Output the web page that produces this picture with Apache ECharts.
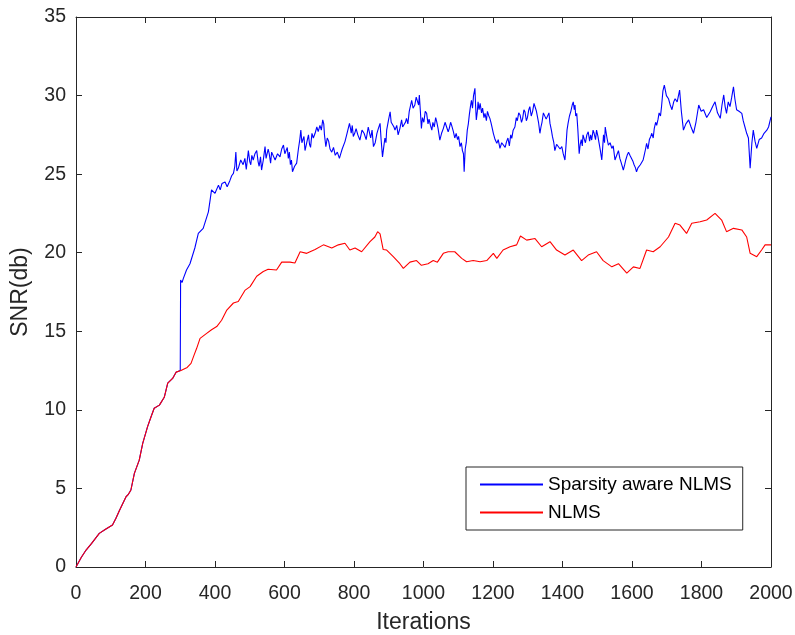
<!DOCTYPE html>
<html>
<head>
<meta charset="utf-8">
<script src="https://cdn.jsdelivr.net/npm/echarts@6/dist/echarts.min.js"></script>
<style>
html,body{margin:0;padding:0;background:#fff;}
#c{width:795px;height:635px;}
</style>
</head>
<body>
<div id="c"></div>
<script>
const seriesNames = ['Sparsity aware NLMS', 'NLMS'];
const xTitle = 'Iterations';
const yTitle = 'SNR(db)';

const nlmsIter = [0,5,15,29,45,67,85,105,115,125,144,150,158,168,182,192,206,216,225,240,254,264,278,288,302,320,331,340,347,357,376,390,405,419,434,453,467,486,501,520,539,553,577,592,616,630,645,664,688,712,736,755,774,788,803,822,846,860,868,875,884,894,913,932,942,961,980,994,1013,1028,1040,1057,1071,1090,1110,1124,1143,1163,1182,1201,1211,1229,1249,1268,1279,1297,1321,1340,1364,1383,1407,1431,1455,1474,1498,1517,1542,1561,1585,1604,1623,1642,1661,1681,1705,1724,1738,1757,1772,1796,1815,1839,1858,1872,1892,1916,1930,1940,1959,1973,1983,2000];
const nlmsVal = [0,0.05,0.6,1.08,1.5,2.14,2.4,2.67,3.1,3.6,4.47,4.6,4.9,5.96,6.8,7.87,8.93,9.56,10.1,10.3,10.8,11.7,12.0,12.4,12.5,12.7,12.96,13.5,13.9,14.55,14.87,15.1,15.3,15.7,16.35,16.8,16.9,17.6,17.84,18.5,18.8,18.95,18.9,19.4,19.4,19.35,20.06,19.96,20.2,20.5,20.3,20.5,20.6,20.17,20.3,20.06,20.7,21.0,21.34,21.2,20.2,20.17,19.75,19.3,19.0,19.4,19.5,19.2,19.3,19.5,19.4,19.96,20.06,20.06,19.64,19.43,19.5,19.43,19.5,19.96,19.64,20.17,20.38,20.5,21.06,20.8,20.9,20.38,20.7,20.17,19.85,20.17,19.5,19.85,20.06,19.5,19.1,19.3,18.7,19.1,19.0,20.17,20.06,20.38,21.0,21.87,21.76,21.23,21.87,21.97,22.08,22.5,22.08,21.34,21.55,21.45,21.0,19.96,19.75,20.17,20.5,20.5];

const sparseIter = [0,5,15,29,45,67,85,105,115,125,144,150,158,168,182,192,206,216,225,240,254,264,278,288,300,301,305,309,318,328,333,342,352,357,366,371,381,386,390,400,410,415,420,429,435,443,448,453,457,460,463,467,474,481,486,490,496,500,503,506,510,515,520,524,527,531,534,539,544,547,550,553,556,560,563,568,573,580,587,592,597,601,604,608,611,614,617,620,623,629,635,640,644,647,650,653,656,659,664,669,672,675,679,683,688,693,697,702,706,710,713,715,719,723,727,731,736,741,746,752,758,762,766,770,774,780,787,790,792,795,798,802,806,811,817,823,829,835,841,845,848,852,856,861,866,870,875,878,882,886,889,892,894,899,904,907,911,915,918,923,927,932,937,940,944,948,951,955,959,962,966,970,975,979,983,986,988,991,994,997,1001,1005,1009,1013,1016,1020,1024,1027,1031,1035,1038,1042,1047,1052,1057,1062,1067,1071,1074,1078,1081,1086,1090,1094,1098,1101,1105,1109,1112,1115,1117,1120,1123,1126,1129,1132,1135,1138,1141,1144,1148,1150,1152,1155,1157,1160,1163,1167,1170,1174,1177,1181,1184,1188,1191,1194,1196,1199,1201,1206,1211,1215,1220,1225,1230,1235,1239,1243,1247,1251,1254,1258,1263,1267,1270,1274,1278,1282,1285,1289,1292,1296,1299,1303,1306,1310,1314,1318,1321,1325,1328,1331,1335,1338,1341,1345,1350,1353,1357,1361,1364,1368,1371,1375,1378,1383,1388,1393,1398,1402,1407,1410,1413,1416,1420,1424,1428,1431,1434,1436,1438,1441,1444,1448,1451,1454,1457,1459,1463,1466,1470,1474,1478,1481,1484,1488,1491,1495,1498,1502,1505,1509,1513,1516,1518,1521,1523,1528,1532,1537,1542,1546,1551,1556,1561,1565,1568,1572,1575,1579,1582,1586,1590,1594,1599,1603,1606,1610,1613,1617,1620,1624,1628,1632,1635,1639,1642,1646,1650,1654,1657,1661,1664,1668,1671,1675,1678,1682,1685,1689,1693,1699,1705,1710,1715,1720,1724,1730,1737,1742,1748,1755,1763,1770,1777,1784,1792,1799,1806,1815,1825,1832,1839,1846,1854,1859,1864,1868,1872,1877,1882,1887,1892,1896,1901,1908,1916,1920,1925,1930,1935,1940,1945,1949,1954,1959,1966,1973,1980,1988,1993,2000];
const sparseVal = [0,0.05,0.6,1.08,1.5,2.14,2.4,2.67,3.1,3.6,4.47,4.6,4.9,5.96,6.8,7.87,8.93,9.56,10.1,10.3,10.8,11.7,12.0,12.4,12.5,18.26,18.1,18.37,18.9,19.3,19.4,20.3,21.23,21.34,21.55,21.9,22.6,23.36,24.0,23.78,24.3,24.0,24.4,24.5,24.2,24.6,24.9,25.05,25.5,26.4,25.2,25.37,25.9,25.6,26.0,25.3,26.5,25.8,25.6,26.2,25.9,26.3,26.5,25.8,25.5,26.1,25.26,25.9,26.75,26.0,25.9,26.6,26.3,25.7,26.4,26.5,25.9,26.3,26.1,26.6,26.85,26.3,26.2,26.7,26.0,26.4,25.6,25.9,25.15,25.5,25.7,26.6,27.2,27.8,27.0,26.9,27.4,26.5,27.0,27.5,26.9,26.7,27.6,27.3,27.6,28.0,27.7,28.1,27.8,28.45,28.2,27.5,26.75,27.3,27.1,26.6,26.4,26.7,26.2,26.4,26.0,26.3,26.6,26.5,27.07,27.6,28.23,27.9,27.6,28.1,27.4,27.6,27.9,27.5,27.17,27.8,27.6,27.2,28.0,27.6,27.3,27.8,26.75,27.0,27.6,27.9,28.23,27.2,26.1,26.8,27.3,27.0,27.8,28.4,28.97,28.3,28.4,28.0,27.8,28.1,27.5,27.9,28.45,28.0,27.9,28.3,28.55,28.2,29.0,29.3,29.7,29.2,29.4,29.9,29.8,29.4,30.04,29.0,27.9,28.6,28.3,29.0,28.87,28.2,28.5,28.1,27.8,28.3,28.0,28.6,28.34,27.9,27.17,27.6,27.9,28.3,28.34,27.7,27.9,28.3,28.1,27.7,27.3,27.6,27.2,27.4,26.75,27.0,26.5,26.3,25.15,26.6,27.0,27.8,28.2,28.8,29.3,29.7,29.2,30.0,30.46,29.3,28.45,29.0,29.6,29.1,29.5,28.9,29.2,28.6,28.87,28.4,29.0,28.7,28.55,28.3,28.1,27.8,27.6,27.2,26.96,27.2,26.64,27.0,26.9,26.7,27.07,27.3,26.8,27.5,27.28,27.8,28.0,28.6,28.4,28.9,28.76,28.3,28.5,29.1,28.97,28.4,28.6,29.1,29.3,28.7,29.0,29.5,29.4,29.0,28.9,28.3,27.6,28.0,28.3,28.9,28.97,28.5,28.6,28.9,28.23,27.8,27.4,27.0,26.5,26.9,27.0,26.6,26.75,26.3,25.9,26.8,27.8,28.23,28.7,29.0,29.4,29.6,29.1,29.4,28.7,28.87,27.9,26.3,26.9,27.2,26.8,27.5,27.2,27.0,27.5,27.7,27.1,27.5,27.17,27.8,27.6,27.2,27.8,27.4,27.0,26.5,25.9,26.8,27.5,27.0,28.0,27.3,26.85,27.0,26.64,26.8,25.9,26.2,26.5,26.0,25.8,25.5,25.26,25.6,25.9,26.2,26.4,26.2,26.3,25.8,25.6,25.4,25.15,25.4,25.3,25.6,25.5,25.9,26.2,26.6,26.96,26.6,27.2,27.4,27.6,27.3,27.9,28.3,28.1,28.5,28.9,28.7,29.3,30.3,30.67,30.0,29.8,29.4,29.1,29.6,29.8,29.6,30.35,29.0,27.8,28.2,28.45,28.0,27.6,28.3,29.4,29.0,29.1,28.6,28.97,29.3,29.6,28.9,28.55,29.4,30.04,29.3,28.87,29.6,29.3,29.9,30.56,29.8,29.1,29.0,28.87,28.4,28.0,27.6,27.3,25.37,27.0,27.8,27.1,26.64,27.2,27.3,27.6,27.8,28.0,28.65];

const xMin = 0, xMax = 2000, xStep = 200;
const yMin = 0, yMax = 35, yStep = 5;

const pair = (xs, ys) => xs.map((x, i) => [x, ys[i]]);
const axisCol = '#262626';
const fontFam = '"Liberation Sans", Arial, sans-serif';

const chart = echarts.init(document.getElementById('c'), null, {renderer: 'canvas'});
const baseX = {
  type: 'value', min: xMin, max: xMax, interval: xStep,
  axisLine: {show: true, onZero: false, lineStyle: {color: axisCol, width: 1}},
  axisTick: {show: true, inside: true, length: 6, lineStyle: {color: axisCol}},
  splitLine: {show: false}
};
const baseY = {
  type: 'value', min: yMin, max: yMax, interval: yStep,
  axisLine: {show: true, onZero: false, lineStyle: {color: axisCol, width: 1}},
  axisTick: {show: true, inside: true, length: 6, lineStyle: {color: axisCol}},
  splitLine: {show: false}
};
chart.setOption({
  animation: false,
  backgroundColor: '#ffffff',
  textStyle: {fontFamily: fontFam},
  grid: {left: 76, right: 24, top: 17, bottom: 68, containLabel: false, outerBoundsMode: 'none'},
  xAxis: [
    Object.assign({}, baseX, {
      position: 'bottom',
      name: xTitle, nameLocation: 'middle', nameGap: 44,
      nameTextStyle: {color: axisCol, fontSize: 23, fontFamily: fontFam},
      axisLabel: {color: axisCol, fontSize: 19.5, margin: 17, fontFamily: fontFam, formatter: v => String(v)}
    }),
    Object.assign({}, baseX, {position: 'top', axisLabel: {show: false}})
  ],
  yAxis: [
    Object.assign({}, baseY, {
      position: 'left',
      name: yTitle, nameLocation: 'middle', nameGap: 44, nameRotate: 90,
      nameTextStyle: {color: axisCol, fontSize: 23, fontFamily: fontFam},
      axisLabel: {color: axisCol, fontSize: 19.5, margin: 10, fontFamily: fontFam}
    }),
    Object.assign({}, baseY, {position: 'right', axisLabel: {show: false}})
  ],
  legend: {
    orient: 'vertical',
    left: 466, top: 467,
    padding: [8, 11, 8, 14],
    itemGap: 9,
    itemWidth: 63, itemHeight: 2,
    itemTextGap: 7,
    itemStyle: {borderWidth: 0},
    borderColor: axisCol, borderWidth: 1, borderRadius: 0,
    backgroundColor: '#ffffff',
    textStyle: {color: '#000000', fontSize: 19, fontFamily: fontFam},
    data: [
      {name: seriesNames[0], icon: 'rect'},
      {name: seriesNames[1], icon: 'rect'}
    ]
  },
  series: [
    {
      name: seriesNames[0], type: 'line', showSymbol: false, symbol: 'none',
      data: pair(sparseIter, sparseVal),
      lineStyle: {color: '#0000ff', width: 1.1}, itemStyle: {color: '#0000ff'}
    },
    {
      name: seriesNames[1], type: 'line', showSymbol: false, symbol: 'none',
      data: pair(nlmsIter, nlmsVal),
      lineStyle: {color: '#ff0000', width: 1.1}, itemStyle: {color: '#ff0000'}
    }
  ]
});
</script>
</body>
</html>
